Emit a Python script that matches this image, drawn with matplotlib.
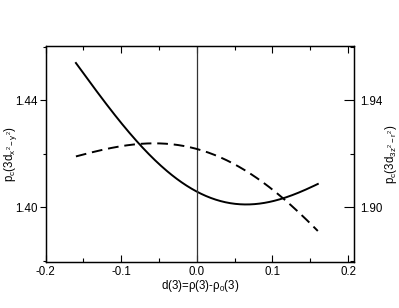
import numpy as np
import matplotlib
matplotlib.use("Agg")
import matplotlib.pyplot as plt
from matplotlib.ticker import MultipleLocator

plt.rcParams['font.family'] = ['Liberation Sans', 'DejaVu Sans']
plt.rcParams['mathtext.fontset'] = 'custom'
plt.rcParams['mathtext.rm'] = 'Liberation Sans'
plt.rcParams['mathtext.it'] = 'Liberation Sans'
plt.rcParams['mathtext.bf'] = 'Liberation Sans:bold'

# values
d3 = [-0.16, -0.12, -0.08, -0.04, 0.0, 0.04, 0.06, 0.08, 0.12, 0.16]
pc_x2y2 = [1.4540, 1.4382, 1.4251, 1.4138, 1.4059, 1.4016, 1.4008, 1.4014, 1.4042, 1.4086]
pc_3z2r2 = [1.9190, 1.9218, 1.9234, 1.9237, 1.9222, 1.9172, 1.9142, 1.9109, 1.9021, 1.8911]

x_ticks = [-0.2, -0.1, 0.0, 0.1, 0.2]
left_ticks = [1.40, 1.44]
right_ticks = [1.90, 1.94]

fs = 8.3

fig = plt.figure(figsize=(3.99, 3.08), dpi=100)
ax = fig.add_axes([0.1145, 0.1494, 0.7735, 0.7012])
ax2 = ax.twinx()

# smooth the read points a little for drawing
xs = np.linspace(d3[0], d3[-1], 200)
c1 = np.polyfit(d3, pc_x2y2, 4)
c2 = np.polyfit(d3, pc_3z2r2, 4)
ax.plot(xs, np.polyval(c1, xs), color='black', lw=1.4)
ax2.plot(xs, np.polyval(c2, xs), color='black', lw=1.4, dashes=(5.5, 3))

ax.axvline(0.0, color='#333333', lw=0.9)

ax.set_xlim(-0.2, 0.2083)
ax.set_ylim(1.3796, 1.4602)
ax2.set_ylim(1.8796, 1.9602)

ax.set_xticks(x_ticks)
ax.set_xticklabels(['-0.2', '-0.1', '0.0', '0.1', '0.2'])
ax.xaxis.set_minor_locator(MultipleLocator(0.05))
ax.set_yticks(left_ticks)
ax.set_yticklabels(['1.40', '1.44'])
ax.yaxis.set_minor_locator(MultipleLocator(0.02))
ax2.set_yticks(right_ticks)
ax2.set_yticklabels(['1.90', '1.94'])
ax2.yaxis.set_minor_locator(MultipleLocator(0.02))

ax.tick_params(axis='x', which='both', direction='in', top=True, labelsize=fs, pad=3, width=0.8)
ax.tick_params(axis='x', which='major', length=5)
ax.tick_params(axis='x', which='minor', length=3)
ax.tick_params(axis='y', which='both', direction='out', labelsize=fs, width=0.8, pad=2)
ax.tick_params(axis='y', which='major', length=4)
ax.tick_params(axis='y', which='minor', length=2.5)
ax2.tick_params(axis='y', which='both', direction='in', labelsize=fs, width=0.8, pad=4)
ax2.tick_params(axis='y', which='major', length=7)
ax2.tick_params(axis='y', which='minor', length=3)

for a in (ax, ax2):
    for s in a.spines.values():
        s.set_linewidth(0.9)

ax.set_xlabel(r'd(3)=$\rho$(3)-$\rho_0$(3)', fontsize=fs)
ax.xaxis.set_label_coords(0.5, -0.075)
ax.set_ylabel(r'p$_c$(3d$_{x^2-y^2}$)', fontsize=fs, va='center')
ax.yaxis.set_label_coords(-0.113, 0.5)
ax2.set_ylabel(r'p$_c$(3d$_{3z^2-r^2}$)', fontsize=fs, rotation=90, va='center')
ax2.yaxis.set_label_coords(1.12, 0.5)

fig.savefig('out.png', dpi=100)
